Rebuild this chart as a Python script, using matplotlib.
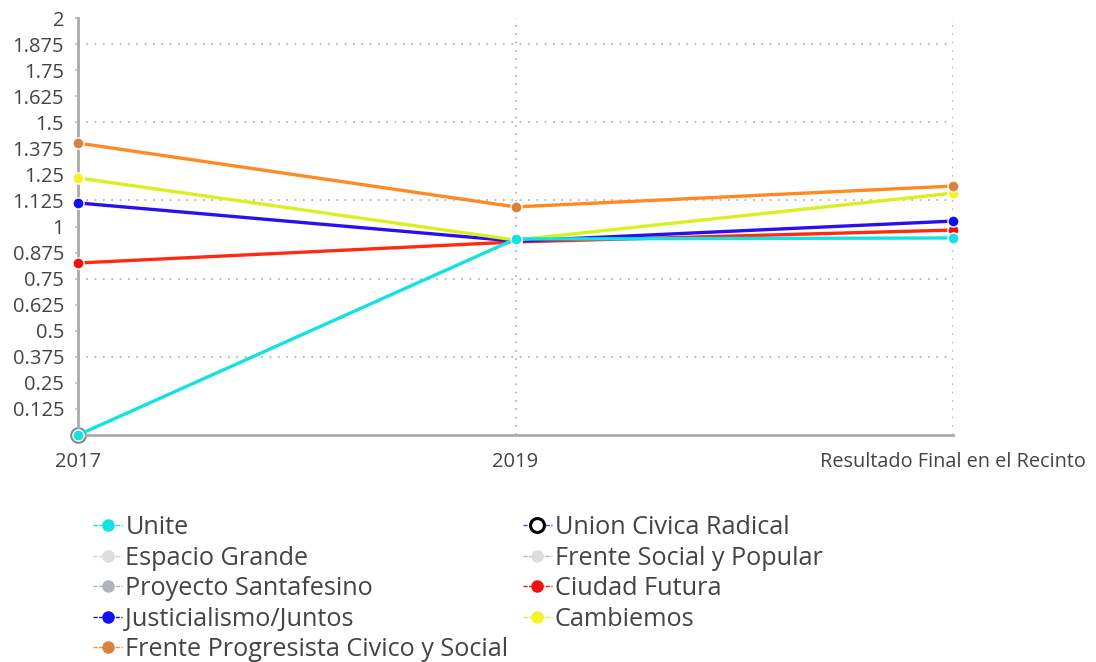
import numpy as np
import matplotlib.pyplot as plt
from matplotlib.lines import Line2D

plt.rcParams['font.family'] = ['Open Sans', 'DejaVu Sans']

# datos
categorias = ['2017', '2019', 'Resultado Final en el Recinto']
unite = [0.0, 0.94, 0.945]
ucr = [0.0, np.nan, np.nan]
espacio_grande = [np.nan, np.nan, np.nan]
frente_social = [np.nan, np.nan, np.nan]
proyecto_sf = [np.nan, np.nan, np.nan]
ciudad_futura = [0.825, 0.926, 0.983]
justicialismo = [1.113, 0.93, 1.026]
cambiemos = [1.233, 0.935, 1.16]
frente_progresista = [1.40, 1.094, 1.194]

yticks = [0.125, 0.25, 0.375, 0.5, 0.625, 0.75, 0.875, 1, 1.125, 1.25, 1.375, 1.5, 1.625, 1.75, 1.875, 2]
ylabels = ['0.125', '0.25', '0.375', '0.5', '0.625', '0.75', '0.875', '1', '1.125', '1.25',
           '1.375', '1.5', '1.625', '1.75', '1.875', '2']

# (nombre, valores, color linea, color marcador, color linea leyenda)
series = [
    ('Unite', unite, '#12e2e2', '#12e2e2', '#12e2e2'),
    ('Espacio Grande', espacio_grande, '#c8f0c8', '#dddddd', '#b8eab8'),
    ('Proyecto Santafesino', proyecto_sf, '#b0b4b8', '#b0b4b8', '#b0b4b8'),
    ('Justicialismo/Juntos', justicialismo, '#2a10f0', '#1010f0', '#1010f0'),
    ('Frente Progresista Civico y Social', frente_progresista, '#ff8a20', '#d9823f', '#f08a30'),
    ('Union Civica Radical', ucr, '#8a4aa0', 'white', '#7a3a90'),
    ('Frente Social y Popular', frente_social, '#c8a8d8', '#dddddd', '#c8a8d8'),
    ('Ciudad Futura', ciudad_futura, '#ff2a10', '#f01010', '#f01010'),
    ('Cambiemos', cambiemos, '#d8f020', '#f4f424', '#e8f020'),
]

fig = plt.figure(figsize=(10.96, 6.62), dpi=100)
ax = fig.add_axes([0.0712, 0.3429, 0.7983, 0.6299])
x = np.arange(len(categorias))

# UCR debajo de Unite
ax.plot(x, ucr, marker='o', ms=10, mfc='#dddddd', mec='#888888', mew=2, ls='none', zorder=2, clip_on=False)

orden = ['Ciudad Futura', 'Justicialismo/Juntos', 'Cambiemos', 'Frente Progresista Civico y Social', 'Unite']
for nombre in orden:
    s = [t for t in series if t[0] == nombre][0]
    ax.plot(x, s[1], color=s[2], lw=2.4, marker='o', ms=8, mfc=s[3], mec='white', mew=1,
            zorder=3, clip_on=False)

ax.set_xlim(0, 2)
ax.set_ylim(0, 2)
ax.set_xticks(x)
ax.set_xticklabels(categorias)
for lab, fs in zip(ax.get_xticklabels(), [14.5, 14.5, 14.3]):
    lab.set_fontsize(fs)
    lab.set_color('#444444')
ax.set_yticks(yticks)
ax.set_yticklabels(ylabels, fontsize=14.5, color='#444444')
ax.tick_params(axis='y', length=2, width=1.5, color='#cccccc', pad=8)
ax.tick_params(axis='x', length=0, pad=12)

for s in ['top', 'right']:
    ax.spines[s].set_visible(False)
for s in ['left', 'bottom']:
    ax.spines[s].set_color('#aaaaaa')
    ax.spines[s].set_linewidth(2)

for yv in [0.375, 0.75, 1.125, 1.5, 1.875]:
    ax.axhline(yv, color='#aaaaaa', lw=1.2, ls=(0, (1, 4)), zorder=1)
for xv in [1, 2]:
    ax.axvline(xv, color='#aaaaaa', lw=1.2, ls=(0, (1, 4)), zorder=1)

def handle(s):
    if s[0] == 'Union Civica Radical':
        return Line2D([], [], color=s[4], lw=1, ls=(0, (3, 1)), marker='o', ms=10, mfc='white', mec='black', mew=2.2)
    return Line2D([], [], color=s[4], lw=1, ls=(0, (3, 1)), marker='o', ms=8, mfc=s[3], mec=s[3])

col1 = series[:5]
col2 = series[5:]
kw = dict(loc='upper left', frameon=False, fontsize=18.2, handlelength=1.15, handletextpad=0.12,
          labelspacing=0.22, labelcolor='#444444', borderpad=0, borderaxespad=0)
leg1 = fig.legend([handle(s) for s in col1], [s[0] for s in col1], bbox_to_anchor=(0.085, 0.222), **kw)
leg2 = fig.legend([handle(s) for s in col2], [s[0] for s in col2], bbox_to_anchor=(0.477, 0.222), **kw)

fig.savefig('out.png', dpi=100)
